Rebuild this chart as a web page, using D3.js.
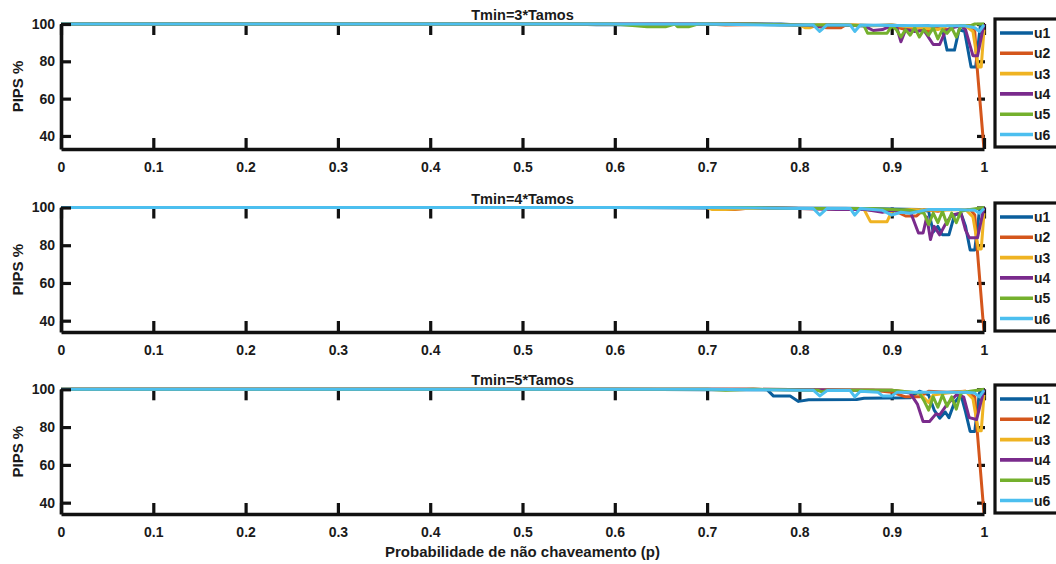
<!DOCTYPE html>
<html>
<head>
<meta charset="utf-8">
<script src="https://cdn.jsdelivr.net/npm/d3@7"></script>
<style>
  html, body { margin: 0; padding: 0; background: #fff; }
  svg { display: block; }
  text { font-family: "Liberation Sans", Arial, sans-serif; font-weight: bold; fill: #1a1a1a; }
</style>
</head>
<body>
<svg id="chart" width="1056" height="564"></svg>
<script>
// Series names and colours
const seriesNames = ["u1", "u2", "u3", "u4", "u5", "u6"];
const seriesColors = ["#0a5e9c", "#d4561c", "#efb322", "#7a2b8c", "#74b02d", "#4cbfef"];

// Panel titles
const panelTitles = ["Tmin=3*Tamos", "Tmin=4*Tamos", "Tmin=5*Tamos"];

// Axis ticks
const xTicks = [0, 0.1, 0.2, 0.3, 0.4, 0.5, 0.6, 0.7, 0.8, 0.9, 1];
const xTickLabels = ["0", "0.1", "0.2", "0.3", "0.4", "0.5", "0.6", "0.7", "0.8", "0.9", "1"];
const yTicks = [40, 60, 80, 100];
const yTickLabels = ["40", "60", "80", "100"];

// PIPS % versus p, Tmin = 3*Tamos
const t3_u1 = [[0,100],[0.55,100],[0.58,99.6],[0.62,99.6],[0.64,100],[0.78,100],[0.8,99.4],[0.84,99.4],[0.87,99],[0.9,99.5],[0.92,98.5],[0.94,99],[0.955,97.5],[0.96,86],[0.968,86],[0.973,97],[0.979,96],[0.986,77],[0.991,77],[0.996,99],[1,100]];
const t3_u2 = [[0,100],[0.7,100],[0.72,99.5],[0.76,99.7],[0.8,99.5],[0.83,98],[0.845,98],[0.85,99.5],[0.9,99],[0.915,97],[0.925,98.5],[0.94,96],[0.95,98],[0.96,97],[0.97,99],[0.985,99],[0.99,96],[0.992,80],[1,33]];
const t3_u3 = [[0,100],[0.7,100],[0.8,99.5],[0.806,98],[0.812,98],[0.82,99.6],[0.86,99.5],[0.88,99],[0.9,99.5],[0.93,98],[0.95,97],[0.96,99],[0.98,99],[0.988,96],[0.994,77],[0.997,77],[1,97]];
const t3_u4 = [[0,100],[0.75,100],[0.8,99.5],[0.815,99],[0.82,98.5],[0.83,99.5],[0.87,99],[0.88,96.5],[0.89,97],[0.895,98],[0.905,99],[0.91,90.5],[0.915,97],[0.925,96],[0.935,96.5],[0.945,89],[0.952,89],[0.958,96],[0.965,98],[0.975,99],[0.98,97],[0.988,83],[0.993,83],[1,100]];
const t3_u5 = [[0,100],[0.6,100],[0.635,98.5],[0.655,98.5],[0.665,100],[0.668,98.5],[0.68,98.5],[0.69,100],[0.75,100],[0.8,99.5],[0.85,99.5],[0.87,99],[0.874,95],[0.895,95],[0.9,99],[0.905,97],[0.91,93],[0.915,97],[0.92,94],[0.925,98],[0.93,93],[0.935,97],[0.94,94],[0.945,98],[0.95,92],[0.955,97],[0.96,95],[0.965,98],[0.97,93],[0.975,99],[0.985,99],[0.99,100],[1,100]];
const t3_u6 = [[0,100],[0.7,100],[0.75,99.6],[0.78,99.3],[0.8,99.5],[0.815,99.5],[0.822,96],[0.83,99.5],[0.855,99.5],[0.86,96],[0.866,99.5],[0.9,99.2],[0.95,99],[0.98,99],[0.99,98],[0.995,96],[1,99.5]];

// PIPS % versus p, Tmin = 4*Tamos
const t4_u1 = [[0,100],[0.6,100],[0.7,99.8],[0.85,99.6],[0.9,99.2],[0.93,99],[0.94,98],[0.945,87],[0.95,90],[0.955,85.5],[0.962,85.5],[0.968,96],[0.975,97],[0.98,90],[0.985,77.5],[0.99,77.5],[0.995,98],[1,100]];
const t4_u2 = [[0,100],[0.7,100],[0.71,99],[0.73,99],[0.75,99.8],[0.8,99.5],[0.86,99.5],[0.88,98.5],[0.9,99],[0.915,95.5],[0.927,95.5],[0.935,99],[0.95,98],[0.96,99],[0.985,99],[0.99,96],[0.992,82],[1,34]];
const t4_u3 = [[0,100],[0.7,100],[0.705,99],[0.72,99],[0.74,99.5],[0.8,99.5],[0.87,99],[0.877,92.5],[0.895,92.5],[0.9,98],[0.92,99],[0.95,98.5],[0.98,99],[0.988,95],[0.994,78],[0.997,78],[1,97]];
const t4_u4 = [[0,100],[0.75,100],[0.8,99.5],[0.84,99],[0.87,99],[0.89,97.5],[0.9,98.5],[0.92,98],[0.929,86.5],[0.934,86.5],[0.938,95],[0.942,83],[0.946,90],[0.952,85.5],[0.958,91],[0.965,96],[0.975,97],[0.98,88],[0.984,84],[0.993,84],[1,100]];
const t4_u5 = [[0,100],[0.75,100],[0.8,99.5],[0.88,99.5],[0.9,99],[0.92,98.5],[0.935,97],[0.94,91],[0.945,97],[0.95,92],[0.955,98],[0.96,91],[0.965,97],[0.97,92],[0.975,98],[0.985,99],[1,100]];
const t4_u6 = [[0,100],[0.7,100],[0.8,99.5],[0.815,99.5],[0.822,96],[0.83,99.5],[0.855,99.5],[0.86,96],[0.866,99.5],[0.89,98.5],[0.9,96],[0.91,97.5],[0.92,97],[0.94,99],[0.97,99],[0.99,98.5],[0.995,97],[1,99.5]];

// PIPS % versus p, Tmin = 5*Tamos
const t5_u1 = [[0,100],[0.6,100],[0.7,99.8],[0.765,99.8],[0.772,96.4],[0.79,96.4],[0.799,93.6],[0.81,94.5],[0.862,94.6],[0.87,95.3],[0.92,95.5],[0.93,99],[0.94,97],[0.946,89],[0.952,84.7],[0.958,88],[0.962,85],[0.968,93],[0.975,97],[0.98,88],[0.985,77.7],[0.99,77.7],[0.995,98],[1,100]];
const t5_u2 = [[0,100],[0.75,100],[0.8,99.6],[0.88,99.5],[0.9,98.5],[0.915,96],[0.93,96],[0.94,99],[0.96,98.5],[0.98,99],[0.99,96],[0.992,82],[1,34]];
const t5_u3 = [[0,100],[0.75,100],[0.85,99.6],[0.9,99.5],[0.93,98],[0.94,93],[0.945,97],[0.96,98],[0.98,99],[0.988,95],[0.994,78],[0.997,78],[1,97]];
const t5_u4 = [[0,100],[0.75,100],[0.85,99.6],[0.9,99.5],[0.92,98],[0.928,92],[0.934,83],[0.941,83],[0.948,87],[0.952,86.5],[0.96,92],[0.97,97],[0.978,96],[0.984,85],[0.992,84],[1,100]];
const t5_u5 = [[0,100],[0.7,100],[0.72,99.5],[0.75,100],[0.82,99.5],[0.825,98.5],[0.83,99.5],[0.9,99.5],[0.93,98],[0.935,94],[0.94,89],[0.945,96],[0.95,90.5],[0.955,97],[0.96,91],[0.965,96],[0.97,89.5],[0.975,98],[0.985,99],[1,100]];
const t5_u6 = [[0,100],[0.7,100],[0.75,99.8],[0.8,99.5],[0.815,99.5],[0.822,96.5],[0.83,99.3],[0.855,99.3],[0.86,96],[0.866,99],[0.885,98.5],[0.89,96.5],[0.9,96.5],[0.906,98.5],[0.95,98.5],[0.98,98.5],[0.99,98],[0.995,96],[1,99.5]];

const panelSeries = [
  [t3_u1, t3_u2, t3_u3, t3_u4, t3_u5, t3_u6],
  [t4_u1, t4_u2, t4_u3, t4_u4, t4_u5, t4_u6],
  [t5_u1, t5_u2, t5_u3, t5_u4, t5_u5, t5_u6]
];

// Layout
const plotLeft = 61, plotRight = 984;
const panelTop = [24, 207.5, 389.3];
const panelBottom = [149, 332, 514];
const legendLeft = 995;
const legendTop = [19, 203, 385];
const legendHeight = 128;

const svg = d3.select("#chart");
const x = d3.scaleLinear().domain([0, 1]).range([plotLeft, plotRight]);

panelSeries.forEach((series, pi) => {
  const allVals = series.flat().map(d => d[1]);
  const y = d3.scaleLinear()
    .domain([d3.min(allVals), d3.max(allVals)])
    .range([panelBottom[pi], panelTop[pi]]);

  const g = svg.append("g");

  // inward ticks along the top and right edges
  const topAxis = d3.axisTop(x).tickValues(xTicks).tickSize(-11).tickFormat("").tickSizeOuter(0);
  g.append("g").attr("transform", `translate(0,${panelTop[pi]})`).call(topAxis)
    .call(a => a.select(".domain").remove())
    .call(a => a.selectAll(".tick line").attr("stroke", "#111").attr("stroke-width", 3.2));

  const rightAxis = d3.axisRight(y).tickValues(yTicks).tickSize(-8).tickFormat("").tickSizeOuter(0);
  g.append("g").attr("transform", `translate(${plotRight + 1},0)`).call(rightAxis)
    .call(a => a.select(".domain").remove())
    .call(a => a.selectAll(".tick line").attr("stroke", "#111").attr("stroke-width", 3.2));

  // data lines
  const line = d3.line().x(d => x(d[0])).y(d => y(d[1]));
  series.forEach((s, si) => {
    g.append("path")
      .datum(s)
      .attr("d", line)
      .attr("fill", "none")
      .attr("stroke", seriesColors[si])
      .attr("stroke-width", 3)
      .attr("stroke-linejoin", "round");
  });

  // left and bottom axes
  const leftAxis = d3.axisLeft(y).tickValues(yTicks).tickSize(-10).tickSizeOuter(0).tickPadding(6)
    .tickFormat((d, i) => yTickLabels[i]);
  g.append("g").attr("transform", `translate(${plotLeft},0)`).call(leftAxis)
    .call(a => a.select(".domain").attr("stroke", "#111").attr("stroke-width", 3.6))
    .call(a => a.selectAll(".tick line").attr("stroke", "#111").attr("stroke-width", 3.2))
    .call(a => a.selectAll("text").attr("font-size", 14).attr("font-family", null).attr("fill", "#1a1a1a"));

  const bottomAxis = d3.axisBottom(x).tickValues(xTicks).tickSize(-11).tickSizeOuter(0).tickPadding(13)
    .tickFormat((d, i) => xTickLabels[i]);
  g.append("g").attr("transform", `translate(0,${panelBottom[pi]})`).call(bottomAxis)
    .call(a => a.select(".domain").attr("stroke", "#111").attr("stroke-width", 3.6))
    .call(a => a.selectAll(".tick line").attr("stroke", "#111").attr("stroke-width", 3.2))
    .call(a => a.selectAll("text").attr("font-size", 14).attr("font-family", null).attr("fill", "#1a1a1a"));

  // title
  g.append("text")
    .attr("x", (plotLeft + plotRight) / 2)
    .attr("y", panelTop[pi] - 4)
    .attr("text-anchor", "middle")
    .attr("font-size", 14.5)
    .text(panelTitles[pi]);

  // y label
  const cy = (panelTop[pi] + panelBottom[pi]) / 2;
  g.append("text")
    .attr("transform", `translate(23,${cy}) rotate(-90)`)
    .attr("text-anchor", "middle")
    .attr("font-size", 15)
    .text("PIPS %");

  // legend
  const lg = g.append("g");
  lg.append("rect")
    .attr("x", legendLeft).attr("y", legendTop[pi])
    .attr("width", 80).attr("height", legendHeight)
    .attr("fill", "#fff").attr("stroke", "#111").attr("stroke-width", 3.2);
  seriesNames.forEach((name, si) => {
    const ly = legendTop[pi] + 14 + si * 20.3;
    lg.append("line")
      .attr("x1", legendLeft + 5).attr("x2", legendLeft + 38)
      .attr("y1", ly).attr("y2", ly)
      .attr("stroke", seriesColors[si]).attr("stroke-width", 3.6);
    lg.append("text")
      .attr("x", legendLeft + 39).attr("y", ly + 5)
      .attr("font-size", 14)
      .text(name);
  });
});

// x label
svg.append("text")
  .attr("x", (plotLeft + plotRight) / 2)
  .attr("y", 557)
  .attr("text-anchor", "middle")
  .attr("font-size", 15)
  .text("Probabilidade de não chaveamento (p)");
</script>
</body>
</html>
